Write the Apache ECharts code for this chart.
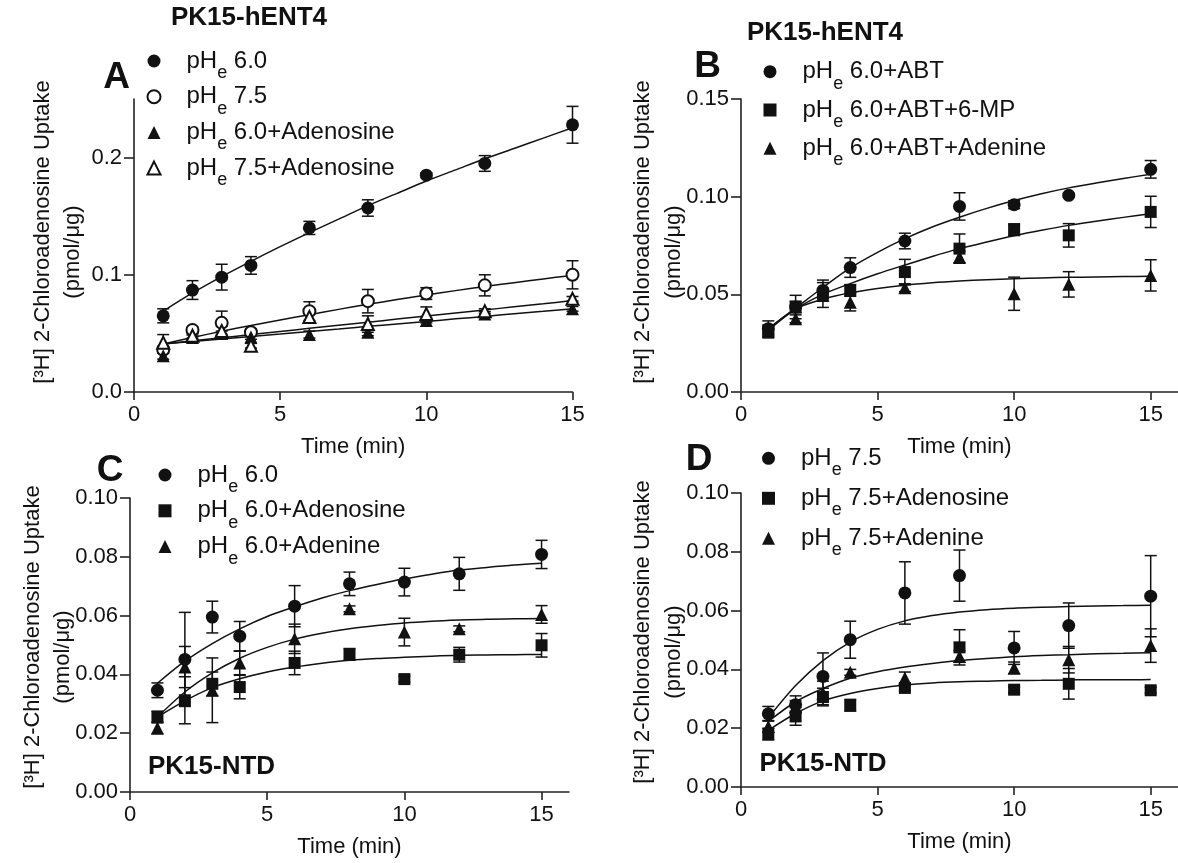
<!DOCTYPE html>
<html><head><meta charset="utf-8">
<script src="https://cdn.jsdelivr.net/npm/echarts@6/dist/echarts.min.js"></script>
<style>html,body{margin:0;padding:0;background:#fff}#c{width:1178px;height:863px}</style>
</head><body><div id="c"></div>
<script>
const FONT = '"Liberation Sans", Arial, Helvetica, sans-serif';
const INK = '#111';

// ---------- data ----------
const times = [1, 2, 3, 4, 6, 8, 10, 12, 15];                       // sampling times (min)
const fitTimes = [1, 2, 3, 4, 5, 6, 7, 8, 9, 10, 11, 12, 13, 14, 15];  // where the fitted curves were read
const xTickValues = [0, 5, 10, 15];

// Panel A (PK15-hENT4)
const aPh60      = [0.065, 0.087, 0.098, 0.108, 0.140, 0.157, 0.185, 0.195, 0.228];
const aPh60Err   = [0.006, 0.008, 0.011, 0.0075, 0.0056, 0.007, 0.002, 0.0067, 0.0157];
const aPh60Fit   = [0.069, 0.0845, 0.0985, 0.1115, 0.124, 0.136, 0.1475, 0.159, 0.1695, 0.180, 0.1895, 0.199, 0.2078, 0.2166, 0.2255];
const aPh75      = [0.036, 0.053, 0.059, 0.051, 0.069, 0.0775, 0.084, 0.091, 0.100];
const aPh75Err   = [0.003, 0.002, 0.010, 0.003, 0.008, 0.010, 0.005, 0.009, 0.012];
const aPh75Fit   = [0.041, 0.0465, 0.0518, 0.0568, 0.0615, 0.066, 0.0705, 0.0748, 0.0789, 0.0828, 0.0865, 0.090, 0.0933, 0.0965, 0.0995];
const aAdo60     = [0.031, 0.0466, 0.050, 0.047, 0.049, 0.051, 0.061, 0.0666, 0.071];
const aAdo60Err  = [0.003, 0.002, 0.002, 0.002, 0.003, 0.003, 0.002, 0.002, 0.002];
const aAdo60Fit  = [0.041, 0.0431, 0.0452, 0.0474, 0.0495, 0.0517, 0.0538, 0.056, 0.0581, 0.0602, 0.0624, 0.0645, 0.0667, 0.0688, 0.071];
const aAdo75     = [0.042, 0.048, 0.052, 0.0395, 0.064, 0.058, 0.0666, 0.069, 0.0795];
const aAdo75Err  = [0.007, 0.002, 0.004, 0.002, 0.005, 0.007, 0.006, 0.002, 0.002];
const aAdo75Fit  = [0.041, 0.0437, 0.0463, 0.049, 0.0516, 0.0543, 0.0569, 0.0595, 0.0622, 0.0648, 0.0674, 0.070, 0.0727, 0.0753, 0.078];

// Panel B (PK15-hENT4)
const bAbt       = [0.0324, 0.0435, 0.052, 0.0637, 0.0773, 0.095, 0.0959, 0.1007, 0.114];
const bAbtErr    = [0.004, 0.003, 0.004, 0.005, 0.004, 0.007, 0.002, 0.001, 0.0045];
const bAbtFit    = [0.0325, 0.043, 0.0535, 0.0635, 0.0715, 0.0785, 0.0845, 0.0895, 0.094, 0.098, 0.1015, 0.1045, 0.107, 0.1093, 0.1115];
const bMp        = [0.0307, 0.0435, 0.0503, 0.052, 0.0614, 0.0734, 0.0831, 0.0802, 0.0922];
const bMpErr     = [0.003, 0.006, 0.007, 0.003, 0.0065, 0.0075, 0.003, 0.006, 0.008];
const bMpFit     = [0.0315, 0.0425, 0.050, 0.0555, 0.0605, 0.065, 0.0694, 0.0734, 0.0768, 0.080, 0.0828, 0.0853, 0.0874, 0.0894, 0.0913];
const bAde       = [0.0324, 0.0375, 0.0495, 0.046, 0.0534, 0.0691, 0.0503, 0.0551, 0.0597];
const bAdeErr    = [0.002, 0.002, 0.003, 0.0045, 0.002, 0.003, 0.0085, 0.0065, 0.008];
const bAdeFit    = [0.032, 0.0425, 0.0475, 0.0508, 0.053, 0.0547, 0.0559, 0.0568, 0.0575, 0.058, 0.0584, 0.0587, 0.0589, 0.0591, 0.0592];

// Panel C (PK15-NTD)
const cPh60      = [0.0346, 0.0451, 0.0595, 0.053, 0.0632, 0.0708, 0.0714, 0.0742, 0.0808];
const cPh60Err   = [0.0025, 0.016, 0.0054, 0.005, 0.007, 0.004, 0.0047, 0.0056, 0.0048];
const cPh60Fit   = [0.037, 0.0445, 0.0505, 0.0555, 0.0597, 0.063, 0.066, 0.0685, 0.0706, 0.0725, 0.0741, 0.0755, 0.0764, 0.0772, 0.0778];
const cAdo       = [0.0255, 0.0312, 0.0368, 0.0357, 0.0439, 0.0468, 0.0384, 0.0467, 0.0499];
const cAdoErr    = [0.002, 0.008, 0.004, 0.004, 0.004, 0.002, 0.001, 0.0025, 0.004];
const cAdoFit    = [0.0255, 0.031, 0.0355, 0.0385, 0.0408, 0.0425, 0.0438, 0.0448, 0.0454, 0.0458, 0.0462, 0.0465, 0.0466, 0.0467, 0.0468];
const cAde       = [0.0218, 0.0425, 0.0346, 0.0439, 0.0521, 0.0623, 0.0544, 0.0555, 0.0604];
const cAdeErr    = [0.002, 0.007, 0.011, 0.004, 0.005, 0.001, 0.0047, 0.001, 0.003];
const cAdeFit    = [0.0255, 0.034, 0.0405, 0.0455, 0.0492, 0.052, 0.054, 0.0555, 0.0566, 0.0575, 0.0581, 0.0585, 0.0588, 0.0589, 0.059];

// Panel D (PK15-NTD)
const dPh75      = [0.0249, 0.028, 0.0376, 0.0501, 0.066, 0.0719, 0.0473, 0.0549, 0.0649];
const dPh75Err   = [0.0025, 0.003, 0.008, 0.0063, 0.0106, 0.0087, 0.0056, 0.0077, 0.0138];
const dPh75Fit   = [0.0235, 0.0345, 0.043, 0.0493, 0.0536, 0.0565, 0.0583, 0.0595, 0.0603, 0.0608, 0.0611, 0.0614, 0.0616, 0.0617, 0.0618];
const dAdo       = [0.018, 0.024, 0.0306, 0.0278, 0.0337, 0.0475, 0.0331, 0.0351, 0.0329];
const dAdoErr    = [0.002, 0.003, 0.003, 0.002, 0.001, 0.006, 0.001, 0.0052, 0.001];
const dAdoFit    = [0.0193, 0.025, 0.0293, 0.0318, 0.0335, 0.0347, 0.0354, 0.0358, 0.036, 0.0362, 0.0363, 0.0364, 0.0365, 0.0365, 0.0366];
const dAde       = [0.0206, 0.0274, 0.032, 0.039, 0.0371, 0.0444, 0.0405, 0.0433, 0.0481];
const dAdeErr    = [0.002, 0.002, 0.004, 0.001, 0.002, 0.002, 0.002, 0.0045, 0.0057];
const dAdeFit    = [0.0223, 0.029, 0.0335, 0.037, 0.0392, 0.0408, 0.042, 0.043, 0.0437, 0.0443, 0.0447, 0.045, 0.0453, 0.0455, 0.0457];

// legend labels per panel
const legendA = ['pHe 6.0', 'pHe 7.5', 'pHe 6.0+Adenosine', 'pHe 7.5+Adenosine'];
const legendB = ['pHe 6.0+ABT', 'pHe 6.0+ABT+6-MP', 'pHe 6.0+ABT+Adenine'];
const legendC = ['pHe 6.0', 'pHe 6.0+Adenosine', 'pHe 6.0+Adenine'];
const legendD = ['pHe 7.5', 'pHe 7.5+Adenosine', 'pHe 7.5+Adenine'];

// ---------- build ----------
const chart = echarts.init(document.getElementById('c'));

const grids = [
  {left: 134, top: 99, width: 438.5, height: 293},
  {left: 741, top: 99, width: 439, height: 293},
  {left: 130, top: 498, width: 439, height: 294},
  {left: 741, top: 493, width: 439, height: 294}
];

const axisLineStyle = {color: '#222', width: 1.6};
function xAx(gi, max) {
  return {
    gridIndex: gi, type: 'value', min: 0, max: max, interval: 5,
    axisLine: {show: true, onZero: false, lineStyle: axisLineStyle},
    axisTick: {show: true, length: 8, lineStyle: axisLineStyle, customValues: xTickValues},
    axisLabel: {customValues: xTickValues, fontSize: 22, margin: 12, color: INK, fontFamily: FONT},
    splitLine: {show: false},
    name: 'Time (min)', nameLocation: 'middle', nameGap: 44,
    nameTextStyle: {fontSize: 22, color: INK, fontFamily: FONT}
  };
}
function yAx(gi, max, ticks, dec) {
  return {
    gridIndex: gi, type: 'value', min: 0, max: max,
    axisLine: {show: true, onZero: false, lineStyle: axisLineStyle},
    axisTick: {show: true, length: 10, lineStyle: axisLineStyle, customValues: ticks},
    axisLabel: {customValues: ticks, fontSize: 22, margin: 12, color: INK, fontFamily: FONT,
                formatter: v => Number(v).toFixed(dec)},
    splitLine: {show: false}
  };
}

const series = [];
function addSet(gi, key, label, vals, errs, fit, symbol, size) {
  const name = key + ':' + label;
  series.push({
    type: 'line', xAxisIndex: gi, yAxisIndex: gi, data: fitTimes.map((t, i) => [t, fit[i]]),
    smooth: 0.3, showSymbol: false, silent: true,
    lineStyle: {color: INK, width: 1.5}, z: 2
  });
  series.push({
    type: 'custom', xAxisIndex: gi, yAxisIndex: gi, silent: true, z: 3,
    data: times.map((t, i) => [t, vals[i], errs[i]]),
    encode: {x: 0, y: 1},
    renderItem: function (params, api) {
      const x = api.value(0), y = api.value(1), e = api.value(2);
      const p1 = api.coord([x, y + e]), p2 = api.coord([x, y - e]);
      const hw = 6;
      const st = {stroke: INK, lineWidth: 1.5};
      return {type: 'group', children: [
        {type: 'line', shape: {x1: p1[0], y1: p1[1], x2: p2[0], y2: p2[1]}, style: st},
        {type: 'line', shape: {x1: p1[0] - hw, y1: p1[1], x2: p1[0] + hw, y2: p1[1]}, style: st},
        {type: 'line', shape: {x1: p2[0] - hw, y1: p2[1], x2: p2[0] + hw, y2: p2[1]}, style: st}
      ]};
    }
  });
  series.push({
    type: 'scatter', name: name, xAxisIndex: gi, yAxisIndex: gi,
    data: times.map((t, i) => [t, vals[i]]),
    symbol: symbol, symbolSize: size, z: 4,
    itemStyle: {color: INK, borderColor: INK, borderWidth: symbol.indexOf('empty') === 0 ? 1.5 : 0, opacity: 1}
  });
  return name;
}

const namesA = [
  addSet(0, 'A', legendA[0], aPh60, aPh60Err, aPh60Fit, 'circle', 13),
  addSet(0, 'A', legendA[1], aPh75, aPh75Err, aPh75Fit, 'emptyCircle', 12),
  addSet(0, 'A', legendA[2], aAdo60, aAdo60Err, aAdo60Fit, 'triangle', 13),
  addSet(0, 'A', legendA[3], aAdo75, aAdo75Err, aAdo75Fit, 'emptyTriangle', 12)
];
const namesB = [
  addSet(1, 'B', legendB[0], bAbt, bAbtErr, bAbtFit, 'circle', 13),
  addSet(1, 'B', legendB[1], bMp, bMpErr, bMpFit, 'rect', 12),
  addSet(1, 'B', legendB[2], bAde, bAdeErr, bAdeFit, 'triangle', 13)
];
const namesC = [
  addSet(2, 'C', legendC[0], cPh60, cPh60Err, cPh60Fit, 'circle', 13),
  addSet(2, 'C', legendC[1], cAdo, cAdoErr, cAdoFit, 'rect', 12),
  addSet(2, 'C', legendC[2], cAde, cAdeErr, cAdeFit, 'triangle', 13)
];
const namesD = [
  addSet(3, 'D', legendD[0], dPh75, dPh75Err, dPh75Fit, 'circle', 13),
  addSet(3, 'D', legendD[1], dAdo, dAdoErr, dAdoFit, 'rect', 12),
  addSet(3, 'D', legendD[2], dAde, dAdeErr, dAdeFit, 'triangle', 13)
];

function fmtLegend(name) {
  const label = name.slice(name.indexOf(':') + 1);
  return label.replace(/^pHe/, 'pH{sub|e}');
}
const LEG_LH = 42;
function legendCfg(names, left, rowCenter, spacing) {
  return {
    data: names, orient: 'vertical', left: left, top: rowCenter - LEG_LH / 2, padding: 0,
    itemWidth: 13, itemHeight: 13, itemGap: spacing - LEG_LH, selectedMode: false,
    formatter: fmtLegend,
    textStyle: {
      fontSize: 24, fontFamily: FONT, color: INK, lineHeight: LEG_LH, padding: [0, 0, 0, 21],
      rich: {sub: {fontSize: 18, fontFamily: FONT, color: INK, lineHeight: 18, verticalAlign: 'bottom'}}
    }
  };
}

function txt(x, y, text, size, bold, rot) {
  return {
    type: 'text', x: x, y: y, rotation: rot || 0, silent: true,
    style: {
      text: text, fontSize: size, fontWeight: bold ? 'bold' : 'normal', fontFamily: FONT,
      fill: INK, textAlign: 'center', textVerticalAlign: 'middle', align: 'center', verticalAlign: 'middle'
    }
  };
}
const yTitle1 = '[³H] 2-Chloroadenosine Uptake';
const yTitle2 = '(pmol/μg)';
const R = Math.PI / 2;

const option = {
  backgroundColor: '#fff',
  animation: false,
  grid: grids,
  xAxis: [xAx(0, 15), xAx(1, 16), xAx(2, 16), xAx(3, 16)],
  yAxis: [
    yAx(0, 0.25, [0, 0.1, 0.2], 1),
    yAx(1, 0.15, [0, 0.05, 0.10, 0.15], 2),
    yAx(2, 0.10, [0, 0.02, 0.04, 0.06, 0.08, 0.10], 2),
    yAx(3, 0.10, [0, 0.02, 0.04, 0.06, 0.08, 0.10], 2)
  ],
  legend: [
    legendCfg(namesA, 146.5, 61, 35.7),
    legendCfg(namesB, 763.5, 71.7, 38.3),
    legendCfg(namesC, 158.5, 475, 35.8),
    legendCfg(namesD, 762, 458.3, 40)
  ],
  graphic: [
    txt(249, 18, 'PK15-hENT4', 26, true),
    txt(825, 32.5, 'PK15-hENT4', 26, true),
    txt(116.5, 78, 'A', 37, true),
    txt(707.5, 66.5, 'B', 37, true),
    txt(110, 471, 'C', 37, true),
    txt(699, 460, 'D', 37, true),
    txt(211.5, 767, 'PK15-NTD', 26, true),
    txt(823, 764, 'PK15-NTD', 26, true),
    txt(42.5, 232, yTitle1, 22, false, R),
    txt(72.5, 252, yTitle2, 22, false, R),
    txt(643, 232, yTitle1, 22, false, R),
    txt(673.5, 252, yTitle2, 22, false, R),
    txt(32.5, 637, yTitle1, 22, false, R),
    txt(63, 657, yTitle2, 22, false, R),
    txt(643, 632, yTitle1, 22, false, R),
    txt(673.5, 652, yTitle2, 22, false, R)
  ],
  series: series
};
chart.setOption(option);
</script>
</body></html>
